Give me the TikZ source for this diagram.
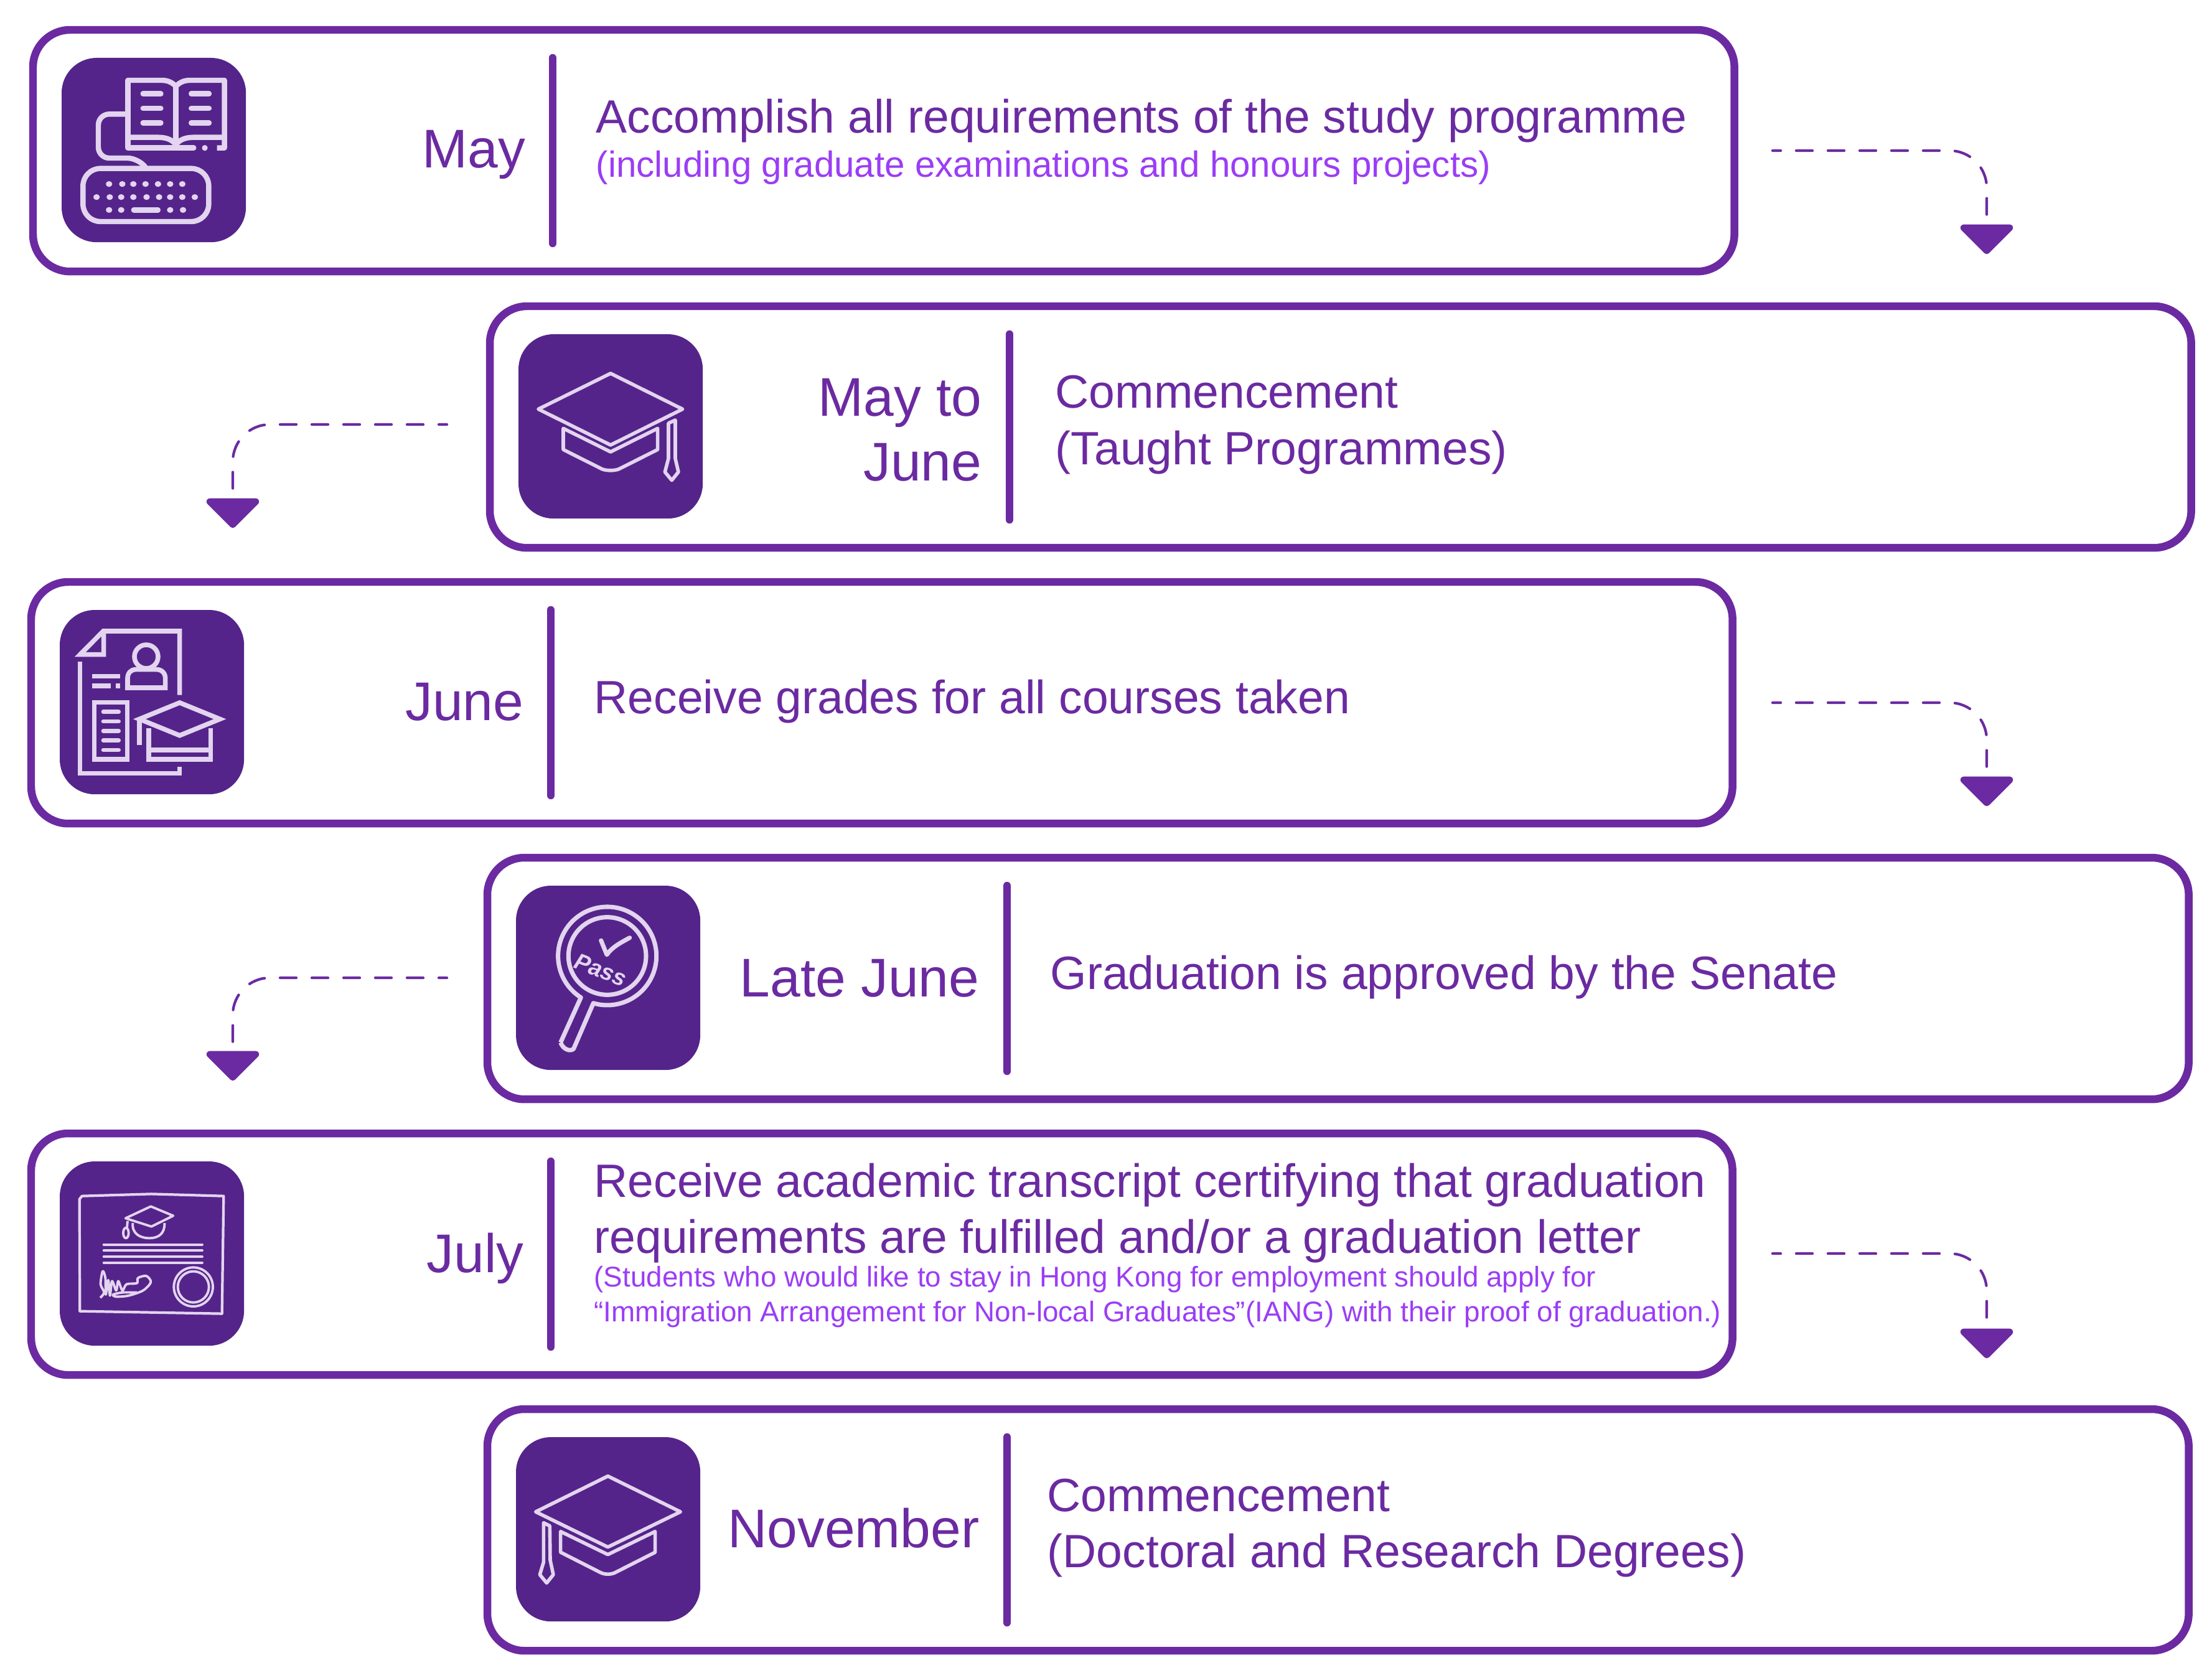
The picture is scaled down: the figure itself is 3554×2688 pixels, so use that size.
\documentclass[tikz,border=0pt]{standalone}
\usepackage{fontspec}
\setmainfont{Liberation Sans}
\usetikzlibrary{calc, shapes.geometric}
\definecolor{boxpurple}{HTML}{6B2AA1}
\definecolor{iconpurple}{HTML}{54248A}
\definecolor{iconink}{HTML}{E3D4EF}
\definecolor{notepurple}{HTML}{9B3DF5}
\tikzset{
  stepbox/.style={draw=boxpurple, line width=3.55pt, rounded corners=17pt, inner sep=0pt, outer sep=0pt, minimum width=27.32cm, minimum height=3.88cm},
  iconbox/.style={fill=iconpurple, rounded corners=16pt, inner sep=0pt, outer sep=0pt, minimum size=2.96cm},
  sepline/.style={draw=boxpurple, line width=3.55pt, line cap=round},
  flowline/.style={draw=boxpurple, line width=1.2pt, line cap=round, rounded corners=17pt, dash pattern=on 7.4pt off 7.1pt, dash phase=3.7pt},
  droptip/.style={isosceles triangle, isosceles triangle apex angle=90, shape border rotate=-90, fill=boxpurple, draw=boxpurple, line width=3pt, line join=round, inner sep=0pt, outer sep=0pt, minimum height=.37cm, minimum width=.70cm, anchor=apex},
  monthtext/.style={text=boxpurple, font=\fontsize{24.9}{29}\selectfont, anchor=base east, inner sep=0pt},
  maintext/.style={text=boxpurple, font=\fontsize{21.35}{25}\selectfont, anchor=base west, inner sep=0pt},
  subtext/.style={text=notepurple, font=\fontsize{16.6}{20}\selectfont, anchor=base west, inner sep=0pt},
  smalltext/.style={text=notepurple, font=\fontsize{13.03}{16}\selectfont, anchor=base west, inner sep=0pt},
  iconline/.style={draw=iconink, line width=2.4pt, line join=round},
  capline/.style={draw=iconink, line width=1.6pt, line join=round},
  sheetline/.style={draw=iconink, line width=2.15pt, line join=miter}
}
\begin{document}
\begin{tikzpicture}[x=.01cm, y=-.01cm]
\useasboundingbox (0,0) rectangle (3554,2688);
% Draw boxes
\node[stepbox, anchor=north west] (box1) at (53,48) {};
\node[stepbox, anchor=north west] (box2) at (787,492) {};
\node[stepbox, anchor=north west] (box3) at (50,935) {};
\node[stepbox, anchor=north west] (box4) at (783,1378) {};
\node[stepbox, anchor=north west] (box5) at (50,1821) {};
\node[stepbox, anchor=north west] (box6) at (783,2264) {};
% Draw icon backgrounds
\node[iconbox, anchor=north west] (icon1) at (99,93) {};
\node[iconbox, anchor=north west] (icon2) at (833,537) {};
\node[iconbox, anchor=north west] (icon3) at (96,980) {};
\node[iconbox, anchor=north west] (icon4) at (829,1423) {};
\node[iconbox, anchor=north west] (icon5) at (96,1866) {};
\node[iconbox, anchor=north west] (icon6) at (829,2309) {};
% Draw separators
\draw[sepline] (888,93) -- (888,391);
\draw[sepline] (1622,537) -- (1622,835);
\draw[sepline] (885,980) -- (885,1278);
\draw[sepline] (1618,1423) -- (1618,1721);
\draw[sepline] (885,1866) -- (885,2164);
\draw[sepline] (1618,2309) -- (1618,2607);
% Months
\node[monthtext] (month1) at (845,270) {May};
\node[monthtext] (month2a) at (1578,668) {May to};
\node[monthtext] (month2b) at (1578,772) {June};
\node[monthtext] (month3) at (842,1157) {June};
\node[monthtext] (month4) at (1574,1601) {Late June};
\node[monthtext] (month5) at (842,2044) {July};
\node[monthtext] (month6) at (1574,2486) {November};
% Descriptions
\node[maintext] (text1) at (957,214) {Accomplish all requirements of the study programme};
\node[subtext] (note1) at (957,285) {(including graduate examinations and honours projects)};
\node[maintext] (text2a) at (1695,656) {Commencement};
\node[maintext] (text2b) at (1695,746) {(Taught Programmes)};
\node[maintext] (text3) at (954,1146) {Receive grades for all courses taken};
\node[maintext] (text4) at (1687,1589) {Graduation is approved by the Senate};
\node[maintext] (text5a) at (954,1923) {Receive academic transcript certifying that graduation};
\node[maintext] (text5b) at (954,2013) {requirements are fulfilled and/or a graduation letter};
\node[smalltext] (note5a) at (954,2067) {(Students who would like to stay in Hong Kong for employment should apply for};
\node[smalltext] (note5b) at (954,2123) {“Immigration Arrangement for Non-local Graduates”(IANG) with their proof of graduation.)};
\node[maintext] (text6a) at (1682,2428) {Commencement};
\node[maintext] (text6b) at (1682,2518) {(Doctoral and Research Degrees)};
% Draw connectors
\coordinate (start1) at (2848,242);
\coordinate (start2) at (718,682);
\coordinate (start3) at (2848,1129);
\coordinate (start4) at (718,1571);
\coordinate (start5) at (2848,2014);
\node[droptip] (tip1) at (3192,403) {};
\node[droptip] (tip2) at (374,843) {};
\node[droptip] (tip3) at (3192,1290) {};
\node[droptip] (tip4) at (374,1731) {};
\node[droptip] (tip5) at (3192,2177) {};
\draw[flowline] (start1) -| ($(tip1.lower side)+(0,-19)$);
\draw[flowline] (start2) -| ($(tip2.lower side)+(0,-19)$);
\draw[flowline] (start3) -| ($(tip3.lower side)+(0,-19)$);
\draw[flowline] (start4) -| ($(tip4.lower side)+(0,-19)$);
\draw[flowline] (start5) -| ($(tip5.lower side)+(0,-19)$);
% Icon 1: book and keyboard
\begin{scope}[shift={(30,30)}, xscale=.574, yscale=1/3]
\draw[iconline] (306,297) -- (400,297) .. controls (420,297) and (430,310) .. (440,325) .. controls (450,310) and (460,297) .. (480,297) -- (576,297) -- (576,623) -- (555,623);
\draw[iconline, line cap=round] (490,623) -- (306,623) -- (306,297);
\draw[iconline] (440,325) -- (440,600);
\draw[iconline] (306,572) -- (390,572) .. controls (415,572) and (430,585) .. (440,607) .. controls (450,585) and (465,572) .. (490,572) -- (576,572);
\fill[iconink] (521,623) ellipse [x radius=8, y radius=14];
\foreach \ypos in {362,432,502} {
  \draw[iconline, line cap=round] (348,\ypos) -- (398,\ypos);
  \draw[iconline, line cap=round] (483,\ypos) -- (533,\ypos);
}
\draw[iconline, rounded corners=5pt] (298,460) -- (223,460) -- (223,672) -- (335,672) -- (353,712);
\draw[iconline, rounded corners=8pt] (180,722) rectangle (532,978);
\foreach \xpos in {253,290,321,355,390,424,458}
  \fill[iconink] (\xpos,797) ellipse [x radius=9, y radius=14];
\foreach \xpos in {218,255,287,321,358,393,424,458,493}
  \fill[iconink] (\xpos,860) ellipse [x radius=9, y radius=14];
\foreach \xpos in {253,287,424,460}
  \fill[iconink] (\xpos,922) ellipse [x radius=9, y radius=14];
\draw[iconline, line cap=round] (322,922) -- (390,922);
\end{scope}
% Icon 2: cap with tassel on the right
\begin{scope}[shift={(810,510)}, scale=1/3]
\draw[capline] (513,270) -- (860,442) -- (513,615) -- (165,442) -- cycle;
\draw[capline] (285,535) -- (285,637) -- (470,730) .. controls (490,740) and (535,740) .. (555,730) -- (740,637) -- (740,535) -- (513,648) -- cycle;
\draw[capline] (792,510) -- (825,495) -- (825,680) -- (840,745) -- (808,785) -- (775,745) -- (792,680) -- cycle;
\end{scope}
% Icon 3: record sheet and cap
\begin{scope}[shift={(80,960)}, scale=1/3]
\draw[sheetline] (146,310) -- (146,848) -- (626,848) -- (626,815);
\draw[sheetline] (626,470) -- (626,162) -- (258,162) -- (146,275) -- (260,275) -- (260,162);
\draw[sheetline] (465,285) circle [radius=57];
\draw[sheetline] (375,435) -- (375,390) .. controls (375,365) and (390,347) .. (415,347) -- (515,347) .. controls (540,347) and (557,365) .. (557,390) -- (557,435) -- cycle;
\draw[sheetline] (203,379) -- (340,379);
\draw[sheetline] (203,426) -- (294,426);
\draw[sheetline] (318,426) -- (340,426);
\draw[sheetline] (214,505) rectangle (374,780);
\foreach \ypos in {551,597,643,689,735}
  \draw[sheetline, line width=1.9pt, line cap=round] (258,\ypos) -- (332,\ypos);
\draw[sheetline] (432,586) -- (626,507) -- (820,586) -- (626,665) -- cycle;
\draw[sheetline] (432,590) -- (432,710);
\draw[sheetline] (477,630) -- (477,780) -- (775,780) -- (775,630);
\draw[sheetline] (477,735) -- (775,735);
\end{scope}
% Icon 4: magnifier
\begin{scope}[shift={(810,1410)}, scale=1/3]
\draw[iconline, line width=2pt] (497,378) circle [radius=187];
\draw[iconline, line width=2pt] (272,795) -- (370,578) arc [start angle=122.4, end angle=466.4, radius=237] -- (335,825) .. controls (320,840) and (285,830) .. (272,795);
\draw[iconline, line width=2pt, line cap=round] (467,303) -- (495,372) .. controls (520,335) and (560,315) .. (605,290);
\node[text=iconink, font=\fontsize{10.5}{12}\bfseries\itshape, rotate=-21, inner sep=0pt] (password) at (465,445) {Pass};
\end{scope}
% Icon 5: certificate
\begin{scope}[shift={(80,1850)}, scale=1/3]
\draw[iconline, line width=1.2pt] (145,770) -- (143,230) -- (155,215) -- (490,205) -- (838,215) -- (830,782) -- cycle;
\draw[iconline, line width=1.1pt] (365,322) -- (487,265) -- (595,310) -- (490,362) -- cycle;
\draw[iconline, line width=1.1pt] (400,345) .. controls (395,400) and (440,418) .. (480,418) .. controls (525,418) and (555,395) .. (553,345);
\draw[iconline, line width=1.1pt] (375,335) -- (372,368);
\draw[iconline, line width=1.1pt] (367,393) ellipse [x radius=13, y radius=25];
\foreach \ypos in {449,478,508,537}
  \draw[iconline, line width=1.1pt, line cap=round] (260,\ypos) -- (735,\ypos);
\draw[iconline, line width=1.1pt] plot[smooth] coordinates {(243,705) (262,680) (245,640) (255,577) (268,610) (270,690) (282,620) (290,695) (300,625) (320,670) (330,625) (350,670) (370,640) (420,635) (425,610) (465,600) (487,630) (450,670) (380,695) (320,700) (305,690) (350,680) (420,680)};
\draw[iconline, line width=1.1pt] (692,653) circle [radius=94];
\draw[iconline, line width=1.1pt] (692,653) circle [radius=75];
\end{scope}
% Icon 6: cap with tassel on the left
\begin{scope}[shift={(810,2300)}, scale=1/3]
\draw[capline] (500,215) -- (850,387) -- (500,557) -- (152,387) -- cycle;
\draw[capline] (272,482) -- (272,582) -- (465,680) .. controls (485,690) and (515,690) .. (535,680) -- (728,582) -- (728,482) -- (500,593) -- cycle;
\draw[capline] (190,440) -- (220,455) -- (222,620) -- (237,690) -- (205,730) -- (172,690) -- (190,630) -- cycle;
\end{scope}
\end{tikzpicture}
\end{document}
